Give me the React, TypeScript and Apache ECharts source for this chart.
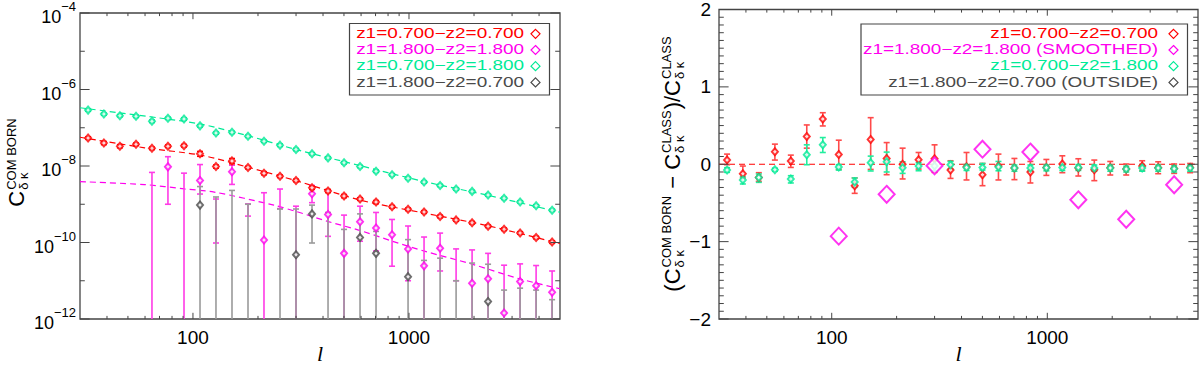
import React, { useEffect, useRef } from "react";
import * as echarts from "echarts";

// multipole bin centres (shared by all series)
const ells = [32.7, 38.7, 45.9, 54.5, 64.6, 76.6, 90.9, 107.8, 127.8, 151.6, 179.8, 213.2, 252.9, 299.9, 355.7, 421.9, 500.4, 593.4, 703.8, 834.7, 990, 1174, 1393, 1652, 1959, 2323, 2755, 3268, 3876, 4597];

// ---- left panel: C_{delta kappa}^{COM BORN}
const cRed = [5.4e-8, 4.0e-8, 3.3e-8, 3.7e-8, 2.9e-8, 3.3e-8, 3.4e-8, 2.1e-8, 9.7e-9, 1.36e-8, 9.1e-9, 6.5e-9, 5.4e-9, 4.2e-9, 2.7e-9, 2.23e-9, 1.64e-9, 1.37e-9, 1.14e-9, 8.6e-10, 7.4e-10, 6.3e-10, 4.8e-10, 3.9e-10, 3.3e-10, 2.67e-10, 2.23e-10, 1.78e-10, 1.35e-10, 1.03e-10];
const cRedErr = [0.08, 0.1, 0.1, 0.08, 0.08, 0.08, 0.08, 0.15, 0.1, 0.16, 0.08, 0.1, 0.08, 0.08, 0.1, 0.1, 0.1, 0.08, 0.1, 0.08, 0.08, 0.08, 0.08, 0.08, 0.08, 0.08, 0.08, 0.08, 0.08, 0.08];
const cGreen = [2.89e-7, 2.28e-7, 2.07e-7, 1.99e-7, 1.48e-7, 1.77e-7, 1.7e-7, 1.12e-7, 7.26e-8, 7.59e-8, 5.98e-8, 4.45e-8, 3.51e-8, 2.7e-8, 2.09e-8, 1.63e-8, 1.21e-8, 9.7e-9, 7.3e-9, 5.9e-9, 4.8e-9, 3.8e-9, 3.1e-9, 2.5e-9, 2.17e-9, 1.74e-9, 1.43e-9, 1.15e-9, 9.1e-10, 7.0e-10];
const cGreenErr = [0.07, 0.07, 0.07, 0.07, 0.08, 0.07, 0.07, 0.07, 0.07, 0.07, 0.07, 0.07, 0.08, 0.07, 0.07, 0.07, 0.07, 0.07, 0.07, 0.07, 0.07, 0.07, 0.07, 0.07, 0.07, 0.07, 0.07, 0.07, 0.07, 0.07];
const cMagVal = [null, null, null, null, null, 9.5e-9, null, 4.2e-9, null, 7.1e-9, null, 1.16e-10, null, null, 1.88e-9, 5.4e-10, 5.2e-11, 3.5e-10, 2.4e-10, 1.6e-10, 6.8e-11, 2.45e-11, 7.1e-11, null, 8.6e-12, 1.13e-11, 1.43e-12, 9.5e-12, 7.4e-12, 5.0e-12];
const cMagHi = [null, null, null, null, 6.8e-9, 1.75e-8, 6.5e-9, 1.09e-8, 1.37e-9, 1.05e-8, 1.02e-9, 2.0e-9, 2.5e-9, 8.9e-10, 3.1e-9, 2.3e-9, 5.2e-10, 8.9e-10, 6.1e-10, 4.0e-10, 2.7e-10, 1.39e-10, 1.76e-10, 6.8e-11, 6.4e-11, 5.2e-11, 2.55e-11, 2.76e-11, 2.5e-11, 1.8e-11];
const cMagLo = [null, null, null, null, null, 1.0e-9, null, 1.85e-9, 9.7e-11, 3.3e-9, 4.9e-10, null, 7.7e-10, null, 1.1e-9, 1.45e-10, null, 1.08e-10, 6.0e-11, 2.4e-11, 1.0e-11, null, 1.8e-11, 1.0e-11, null, null, null, null, null, null];
const cGreyVal = [null, null, null, null, null, null, null, 9.5e-10, null, null, null, null, null, 4.8e-11, 5.6e-10, null, null, 1.36e-10, 5.2e-11, null, 1.28e-11, null, null, null, null, 2.85e-12, null, null, null, null];
const cGreyHi = [null, null, null, null, null, null, null, 2.9e-9, 1.55e-9, 2.3e-9, 1.0e-9, null, 7.5e-10, 7.5e-10, 9.5e-10, 6.1e-10, 2.2e-10, 5.6e-10, 1.95e-10, null, 1.19e-10, 3.4e-11, 3.9e-11, 1.0e-11, 2.9e-11, 2.7e-11, 5.7e-12, 6.4e-12, 5.7e-12, 3.2e-12];
const cGreyLo = [null, null, null, null, null, null, null, null, null, null, null, null, null, null, 9.7e-11, null, null, null, null, null, null, null, null, null, null, null, null, null, null, null];

// theory curves (dashed)
const modelRedL = [30, 59.8, 109, 179.5, 302, 599, 1175, 2323, 5000];
const modelRed = [5.64e-8, 2.99e-8, 1.91e-8, 9.3e-9, 4.08e-9, 1.27e-9, 5.89e-10, 2.73e-10, 9.4e-11];
const modelGreenL = [30, 71.4, 109, 179.5, 300, 599, 1175, 2323, 5000];
const modelGreen = [3.33e-7, 1.77e-7, 1.24e-7, 6.19e-8, 2.7e-8, 1.01e-8, 3.92e-9, 1.71e-9, 6.18e-10];
const modelMagL = [30, 59.6, 91.2, 125.4, 237, 303, 424, 599, 838, 1177, 1960, 3273, 5000];
const modelMag = [3.9e-9, 3.27e-9, 2.52e-9, 2.08e-9, 9.46e-10, 6.37e-10, 3.52e-10, 2.03e-10, 1.08e-10, 5.96e-11, 2.71e-11, 1.11e-11, 6.17e-12];

// ---- right panel: relative difference
const rRed = [0.054, -0.122, -0.17, 0.161, 0.041, 0.358, 0.585, 0.126, -0.277, 0.319, 0.075, 0.0, 0.058, 0.071, -0.075, -0.032, -0.135, -0.023, -0.049, -0.1, -0.041, 0.003, -0.049, -0.071, -0.045, -0.062, -0.023, -0.045, -0.054, -0.041];
const rRedHi = [0.131, -0.023, -0.109, 0.26, 0.118, 0.508, 0.666, 0.311, -0.177, 0.602, 0.28, 0.208, 0.152, 0.251, 0.045, 0.152, 0.01, 0.131, 0.075, 0.036, 0.062, 0.109, 0.071, 0.054, 0.036, 0.003, 0.045, 0.032, 0.003, 0.01];
const rRedLo = [-0.006, -0.177, -0.221, 0.054, -0.041, 0.208, 0.495, -0.067, -0.376, -0.067, -0.135, -0.19, -0.062, -0.105, -0.183, -0.203, -0.277, -0.203, -0.199, -0.242, -0.144, -0.109, -0.152, -0.212, -0.139, -0.139, -0.084, -0.122, -0.118, -0.109];
const rGreen = [-0.075, -0.203, -0.17, -0.071, -0.19, 0.122, 0.251, -0.036, -0.229, 0.019, 0.032, -0.045, -0.023, -0.023, -0.006, -0.041, -0.041, -0.036, -0.049, -0.049, -0.045, -0.041, -0.041, -0.049, -0.049, -0.062, -0.049, -0.049, -0.058, -0.049];
const rGreenHi = [-0.045, -0.161, -0.126, -0.051, -0.148, 0.251, 0.345, -0.006, -0.177, 0.105, 0.157, 0.032, 0.019, 0.045, 0.036, -0.005, 0.01, 0.036, -0.01, -0.01, -0.01, -0.005, -0.005, -0.01, -0.01, -0.025, -0.01, -0.01, -0.02, -0.01];
const rGreenLo = [-0.105, -0.255, -0.234, -0.091, -0.242, -0.006, 0.152, -0.075, -0.298, -0.087, -0.1, -0.118, -0.084, -0.084, -0.062, -0.08, -0.075, -0.084, -0.09, -0.09, -0.085, -0.08, -0.08, -0.09, -0.09, -0.1, -0.09, -0.09, -0.1, -0.09];
const rMagL = [107.8, 179.8, 299.9, 500.4, 834.7, 1393, 2323, 3876];
const rMag = [-0.929, -0.389, -0.019, 0.195, 0.157, -0.46, -0.71, -0.264];

// ticks
const xMajorTicks = [100, 1000];
const xMinorTicks = [40, 50, 60, 70, 80, 90, 200, 300, 400, 500, 600, 700, 800, 900, 2000, 3000, 4000];
const yLogTicks = [1e-12, 1e-11, 1e-10, 1e-9, 1e-8, 1e-7, 1e-6, 1e-5, 1e-4];

const legendLeft = ["z1=0.700\u2212z2=0.700", "z1=1.800\u2212z2=1.800", "z1=0.700\u2212z2=1.800", "z1=1.800\u2212z2=0.700"];
const legendRight = ["z1=0.700\u2212z2=0.700", "z1=1.800\u2212z2=1.800 (SMOOTHED)", "z1=0.700\u2212z2=1.800", "z1=1.800\u2212z2=0.700 (OUTSIDE)"];

const RED = "#ff0000";
const RED_BAR = "#ff4a4a";
const MAG = "#ff00ee";
const MAG_BAR = "#ff3be6";
const GRN = "#00ea96";
const GRN_BAR = "#22ee9e";
const GRY = "#4a4a4a";
const GRY_BAR = "#9a9a9a";
const FRAME = "#444";
const F = '"Liberation Sans", Arial, Helvetica, sans-serif';

function measure(text: string, font: string): number {
  const c = document.createElement("canvas").getContext("2d")!;
  c.font = font;
  return c.measureText(text).width;
}

type Tok = { t: string; sup?: string; sub?: string };
function titleGroup(tokens: Tok[], cx: number, cy: number, big: number, small: number, supOff: number, subOff: number) {
  const children: any[] = [];
  let x = 0;
  const bf = `${big}px ${F}`;
  const sf = `${small}px ${F}`;
  for (const tk of tokens) {
    children.push({ type: "text", x, y: 0, style: { text: tk.t, fontSize: big, fontFamily: F, fill: "#000", align: "left", verticalAlign: "middle" } });
    x += measure(tk.t, bf);
    if (tk.sup || tk.sub) {
      const ws = tk.sup ? measure(tk.sup, sf) : 0;
      const wb = tk.sub ? measure(tk.sub, sf) : 0;
      if (tk.sup) children.push({ type: "text", x: x + 1, y: supOff, style: { text: tk.sup, fontSize: small, fontFamily: F, fill: "#000", align: "left", verticalAlign: "middle" } });
      if (tk.sub) children.push({ type: "text", x: x + 1, y: subOff, style: { text: tk.sub, fontSize: small, fontFamily: F, fill: "#000", align: "left", verticalAlign: "middle" } });
      x += Math.max(ws, wb) + 2;
    }
  }
  return { type: "group", x: cx, y: cy + x / 2, rotation: Math.PI / 2, children };
}

const errBar = (color: string, lw: number, cap: number) => (params: any, api: any) => {
  const cs = params.coordSys;
  const top = cs.y;
  const bot = cs.y + cs.height;
  const xv = api.value(0);
  const hv = api.value(1);
  const lv = api.value(2);
  const ph = api.coord([xv, hv]);
  const x = ph[0];
  let yh = ph[1];
  let yl = api.coord([xv, lv])[1];
  let capLo = true;
  let capHi = true;
  if (!isFinite(yl) || yl > bot) { yl = bot; capLo = false; }
  if (yh < top) { yh = top; capHi = false; }
  const st = { stroke: color, lineWidth: lw };
  const ch: any[] = [{ type: "line", shape: { x1: x, y1: yh, x2: x, y2: yl }, style: st }];
  if (capHi) ch.push({ type: "line", shape: { x1: x - cap, y1: yh, x2: x + cap, y2: yh }, style: st });
  if (capLo) ch.push({ type: "line", shape: { x1: x - cap, y1: yl, x2: x + cap, y2: yl }, style: st });
  return { type: "group", children: ch };
};

const tickRender = (isX: boolean, majorLen: number, minorLen: number) => (params: any, api: any) => {
  const cs = params.coordSys;
  const p = api.coord([api.value(0), api.value(1)]);
  const len = api.value(2) ? majorLen : minorLen;
  const st = { stroke: FRAME, lineWidth: 1 };
  if (isX) {
    const x = p[0];
    const b = cs.y + cs.height;
    return {
      type: "group",
      children: [
        { type: "line", shape: { x1: x, y1: b, x2: x, y2: b - len }, style: st },
        { type: "line", shape: { x1: x, y1: cs.y, x2: x, y2: cs.y + len }, style: st },
      ],
    };
  }
  const y = p[1];
  const r = cs.x + cs.width;
  return {
    type: "group",
    children: [
      { type: "line", shape: { x1: cs.x, y1: y, x2: cs.x + len, y2: y }, style: st },
      { type: "line", shape: { x1: r, y1: y, x2: r - len, y2: y }, style: st },
    ],
  };
};

function buildOption(): any {
  const pts = (vals: (number | null)[]) => vals.map((v, i) => (v == null ? null : [ells[i], v])).filter(Boolean);
  const bars = (hi: (number | null)[], lo: (number | null)[]) =>
    hi.map((h, i) => (h == null ? null : [ells[i], h, lo[i] == null ? NaN : lo[i]])).filter(Boolean);
  const relBars = (vals: number[], err: number[]) => vals.map((v, i) => [ells[i], v * (1 + err[i]), v * (1 - err[i])]);
  const pair = (xs: number[], ys: number[]) => xs.map((x, i) => [x, ys[i]]);

  const xTickData = (ref: number) => [
    ...xMajorTicks.map((v) => [v, ref, 1]),
    ...xMinorTicks.map((v) => [v, ref, 0]),
  ];
  const yLogTickData = yLogTicks.map((v) => [100, v, Math.round(Math.log10(v)) % 2 === 0 ? 1 : 0]);
  const yLinTickData: number[][] = [];
  for (let k = -20; k <= 20; k++) yLinTickData.push([100, k / 10, k % 10 === 0 ? 1 : 0]);

  const axisText = { color: "#000", fontFamily: F, fontSize: 19 };

  const scatter = (name: string, data: any[], color: string, xi: number, size: any, bw: number, z = 5) => ({
    name, type: "scatter", xAxisIndex: xi, yAxisIndex: xi, data, symbol: "emptyDiamond", symbolSize: size,
    itemStyle: { color, borderColor: color, borderWidth: bw }, z, silent: true,
  });
  const custom = (name: string, data: any[], render: any, xi: number, z = 3) => ({
    name, type: "custom", xAxisIndex: xi, yAxisIndex: xi, data, renderItem: render, encode: { x: 0, y: 1 }, z, silent: true,
  });
  const dashed = (name: string, data: any[], color: string, xi: number, dash: number[]) => ({
    name, type: "line", xAxisIndex: xi, yAxisIndex: xi, data, showSymbol: false, smooth: 0.3,
    lineStyle: { color, width: 1.2, type: dash }, z: 2, silent: true,
  });

  // legend text: IDL-like wide glyphs -> horizontally stretched
  const LFS = 14;
  const legScale = 168 / measure(legendLeft[0], `${LFS}px ${F}`);
  const legendGraphic = (box: number[], textRight: number, markX: number, texts: string[]) => {
    const colors = [RED, MAG, GRN, GRY];
    const ys = [33.3, 49.5, 65.7, 81.9];
    const out: any[] = [
      { type: "rect", shape: { x: box[0], y: box[1], width: box[2], height: box[3] }, style: { fill: "#fff", stroke: FRAME, lineWidth: 1.2 }, z: 50 },
    ];
    texts.forEach((t, i) => {
      out.push({
        type: "text", x: textRight, y: ys[i], scaleX: legScale,
        style: { text: t, fill: colors[i], fontSize: LFS, lineHeight: 15, fontFamily: F, align: "right", verticalAlign: "middle" }, z: 51,
      });
      const r = 4.5;
      const y = ys[i] + 0.5;
      out.push({ type: "polygon", shape: { points: [[markX, y - r], [markX + r, y], [markX, y + r], [markX - r, y]] }, style: { fill: "none", stroke: colors[i], lineWidth: 1.2 }, z: 51 });
    });
    return out;
  };

  const ellStyle = { text: "l", fontSize: 22, lineHeight: 20, fontFamily: '"Liberation Serif", serif', fontStyle: "italic", fill: "#000", align: "center", verticalAlign: "middle" };

  return {
    animation: false,
    backgroundColor: "#fff",
    grid: [
      { left: 80, top: 8, width: 480, height: 311, show: true, borderColor: FRAME, borderWidth: 1.3, backgroundColor: "transparent" },
      { left: 719, top: 8, width: 479, height: 311, show: true, borderColor: FRAME, borderWidth: 1.3, backgroundColor: "transparent" },
    ],
    xAxis: [0, 1].map((g) => ({
      gridIndex: g, type: "log", logBase: 10, min: 30, max: 5000,
      axisLine: { show: false }, axisTick: { show: false }, splitLine: { show: false }, minorTick: { show: false },
      axisLabel: {
        ...axisText, margin: 9, interval: 0, showMinLabel: false, showMaxLabel: false,
        formatter: (v: number) => { const r = Math.round(v); return r === 100 || r === 1000 ? String(r) : ""; },
      },
    })),
    yAxis: [
      {
        gridIndex: 0, type: "log", logBase: 10, min: 1e-12, max: 1e-4,
        axisLine: { show: false }, axisTick: { show: false }, splitLine: { show: false },
        axisLabel: {
          interval: 0, margin: 4, color: "#000",
          formatter: (v: number) => { const e = Math.round(Math.log10(v)); return e % 2 !== 0 ? "" : `{b|10}{s|\u2212${Math.abs(e)}}`; },
          rich: {
            b: { fontSize: 18, fontFamily: F, color: "#000", lineHeight: 26, verticalAlign: "bottom" },
            s: { fontSize: 13, fontFamily: F, color: "#000", lineHeight: 13, verticalAlign: "top" },
          },
        },
      },
      {
        gridIndex: 1, type: "value", min: -2, max: 2, interval: 1,
        axisLine: { show: false }, axisTick: { show: false }, splitLine: { show: false },
        axisLabel: { ...axisText, margin: 8, formatter: (v: number) => (v < 0 ? "\u2212" + Math.abs(v) : String(v)) },
      },
    ],
    series: [
      // ticks
      custom("xt0", xTickData(1e-8), tickRender(true, 6.2, 3.1), 0, 20),
      custom("yt0", yLogTickData, tickRender(false, 9.6, 4.8), 0, 20),
      custom("xt1", xTickData(0), tickRender(true, 6.2, 3.1), 1, 20),
      custom("yt1", yLinTickData, tickRender(false, 9.6, 4.8), 1, 20),
      // left panel
      dashed("mGreen", pair(modelGreenL, modelGreen), GRN, 0, [6, 4]),
      dashed("mRed", pair(modelRedL, modelRed), RED, 0, [6, 4]),
      dashed("mMag", pair(modelMagL, modelMag), MAG, 0, [6, 4]),
      custom("magBars", bars(cMagHi, cMagLo), errBar(MAG_BAR, 1.6, 3), 0, 3),
      custom("greyBars", bars(cGreyHi, cGreyLo), errBar(GRY_BAR, 1.6, 3), 0, 4),
      custom("redBars", relBars(cRed, cRedErr), errBar(RED, 1.4, 3), 0, 4),
      custom("greenBars", relBars(cGreen, cGreenErr), errBar(GRN, 1.4, 3), 0, 4),
      scatter("mag", pts(cMagVal), MAG, 0, [6, 7], 1.4),
      scatter("grey", pts(cGreyVal), GRY, 0, [6, 7], 1.4),
      scatter("red", pts(cRed), RED, 0, [6, 7], 1.6),
      scatter("green", pts(cGreen), GRN, 0, [6, 7], 1.6),
      // right panel
      {
        name: "zero", type: "line", xAxisIndex: 1, yAxisIndex: 1, data: [[30, 0], [5000, 0]], showSymbol: false,
        lineStyle: { color: RED, width: 1.2, type: [6, 4] }, z: 2, silent: true,
      },
      custom("rRedBars", ells.map((l, i) => [l, rRedHi[i], rRedLo[i]]), errBar(RED_BAR, 1.6, 3), 1, 3),
      custom("rGreenBars", ells.map((l, i) => [l, rGreenHi[i], rGreenLo[i]]), errBar(GRN_BAR, 1.6, 3), 1, 4),
      scatter("rRed", pts(rRed), RED, 1, [6, 7], 1.6, 5),
      scatter("rGreen", pts(rGreen), GRN, 1, [6, 7], 1.6, 6),
      scatter("rMag", pair(rMagL, rMag), MAG, 1, [16, 17], 1.2, 7),
    ],
    graphic: [
      ...legendGraphic([349.5, 23.5, 200, 71.5], 524, 535.5, legendLeft),
      ...legendGraphic([861, 24, 326.5, 71], 1158, 1173.5, legendRight),
      titleGroup([{ t: "C", sup: "COM BORN", sub: "\u03b4 \u03ba" }], 16.7, 162, 22, 13, -5, 6.5),
      titleGroup(
        [
          { t: "(" },
          { t: "C", sup: "COM BORN", sub: "\u03b4 \u03ba" },
          { t: " \u2212 " },
          { t: "C", sup: "CLASS", sub: "\u03b4 \u03ba" },
          { t: ")/" },
          { t: "C", sup: "CLASS", sub: "\u03b4 \u03ba" },
        ],
        672.5, 163.5, 22, 13, -6, 6.5
      ),
      { type: "text", x: 320, y: 353, style: { ...ellStyle } },
      { type: "text", x: 958.5, y: 353, style: { ...ellStyle } },
    ],
  };
}

export default function App() {
  const ref = useRef<HTMLDivElement>(null);
  useEffect(() => {
    const chart = echarts.init(ref.current!, null, { renderer: "svg" });
    chart.setOption(buildOption());
    return () => chart.dispose();
  }, []);
  return <div ref={ref} style={{ position: "absolute", left: 0, top: 0, width: 1200, height: 366 }} />;
}
